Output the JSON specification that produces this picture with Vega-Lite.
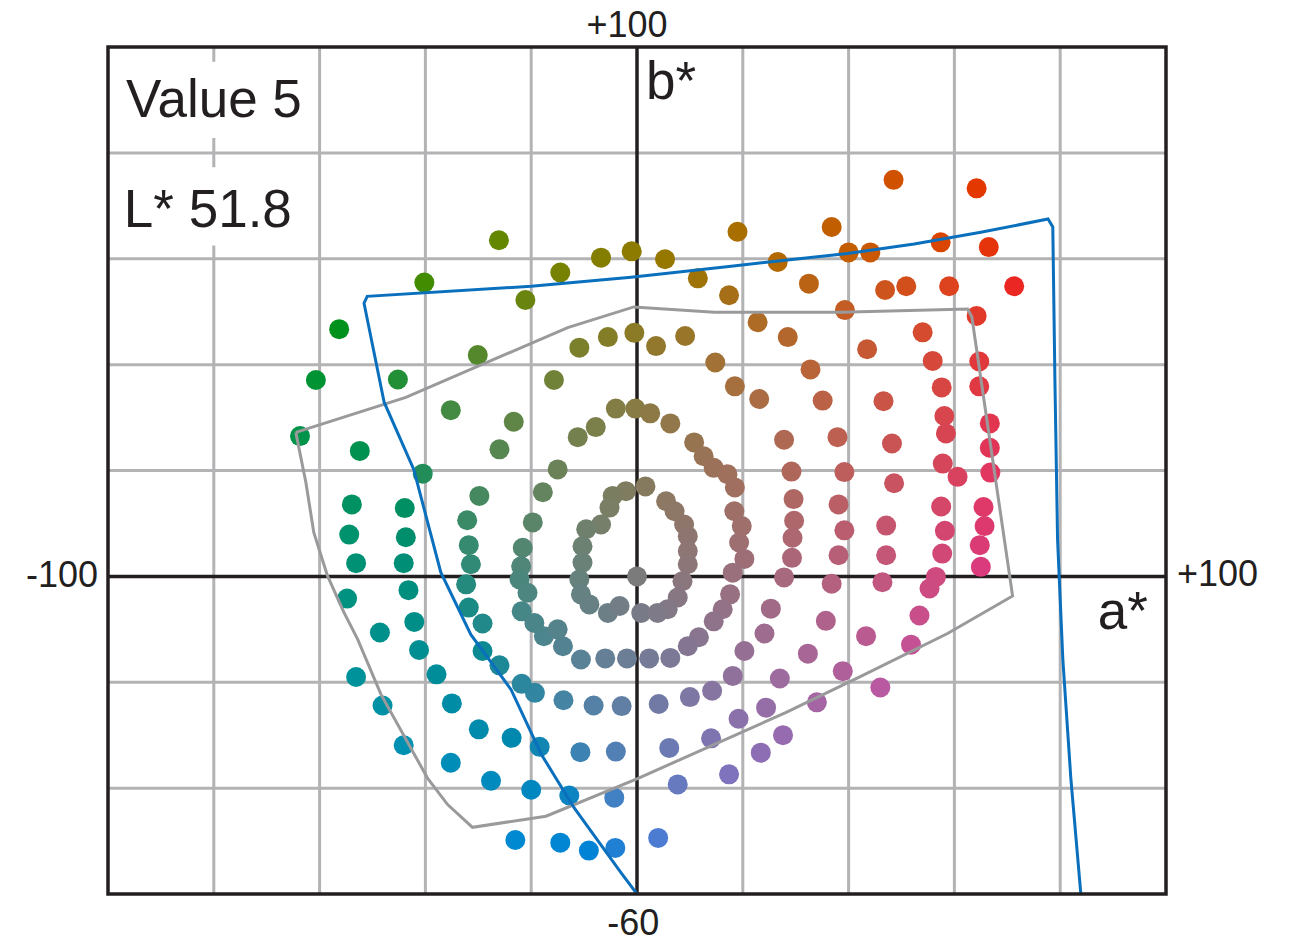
{
  "$schema": "https://vega.github.io/schema/vega-lite/v6.json",
  "width": 1058,
  "height": 847,
  "autosize": {"type": "none"},
  "padding": {"left": 108, "top": 47, "right": 134, "bottom": 48},
  "background": "white",
  "config": {"view": {"stroke": null}},
  "datasets": {
    "gridx": [{"g": -80}, {"g": -60}, {"g": -40}, {"g": -20}, {"g": 20}, {"g": 40}, {"g": 60}, {"g": 80}],
    "gridy": [{"g": -40}, {"g": -20}, {"g": 20}, {"g": 40}, {"g": 60}, {"g": 80}],
    "dots": [
      {"a": -26.1, "b": 63.5}, {"a": -40.2, "b": 55.5}, {"a": -21.1, "b": 52.2}, {"a": -56.3, "b": 46.7},
      {"a": -60.7, "b": 37.1}, {"a": -45.2, "b": 37.2}, {"a": -30.1, "b": 41.8}, {"a": -35.2, "b": 31.4},
      {"a": -14.5, "b": 57.4}, {"a": -6.8, "b": 60.2}, {"a": -1.0, "b": 61.4}, {"a": 5.3, "b": 59.9},
      {"a": 11.5, "b": 56.3}, {"a": 19.0, "b": 65.1}, {"a": 26.6, "b": 59.4}, {"a": 17.4, "b": 53.1},
      {"a": 22.8, "b": 48.0}, {"a": 28.5, "b": 45.2}, {"a": -10.9, "b": 43.2}, {"a": -5.5, "b": 45.2},
      {"a": -0.5, "b": 46.0}, {"a": 3.6, "b": 43.5}, {"a": 9.1, "b": 45.4}, {"a": 14.8, "b": 40.4},
      {"a": 18.5, "b": 35.9}, {"a": -15.7, "b": 37.1}, {"a": 48.5, "b": 74.9}, {"a": 64.2, "b": 73.3},
      {"a": 36.8, "b": 66.0}, {"a": 40.0, "b": 61.2}, {"a": 44.1, "b": 61.2}, {"a": 57.4, "b": 63.1},
      {"a": 66.5, "b": 62.2}, {"a": 32.5, "b": 55.3}, {"a": 46.9, "b": 54.1}, {"a": 50.9, "b": 54.8},
      {"a": 59.0, "b": 54.8}, {"a": 71.3, "b": 54.8}, {"a": 39.3, "b": 50.3}, {"a": 64.2, "b": 49.2},
      {"a": 43.5, "b": 42.9}, {"a": 54.0, "b": 46.1}, {"a": 32.8, "b": 39.1}, {"a": 55.9, "b": 40.7},
      {"a": 64.7, "b": 40.6}, {"a": 35.1, "b": 33.2}, {"a": 46.6, "b": 33.1}, {"a": 57.6, "b": 35.7},
      {"a": 64.7, "b": 35.9}, {"a": 23.1, "b": 33.5}, {"a": -4.0, "b": 31.7}, {"a": -0.3, "b": 31.7},
      {"a": 2.5, "b": 30.8}, {"a": 6.3, "b": 28.9}, {"a": -7.8, "b": 28.2}, {"a": -11.2, "b": 26.3},
      {"a": 10.8, "b": 25.3}, {"a": 12.6, "b": 22.7}, {"a": 14.5, "b": 20.5}, {"a": 17.1, "b": 19.3},
      {"a": 18.5, "b": 16.8}, {"a": -15.0, "b": 20.2}, {"a": -17.8, "b": 15.9}, {"a": 18.4, "b": 12.3},
      {"a": 19.8, "b": 9.5}, {"a": 19.3, "b": 6.4}, {"a": 20.3, "b": 3.3}, {"a": 18.1, "b": 0.7},
      {"a": 17.6, "b": -3.4}, {"a": 16.2, "b": -6.2}, {"a": 14.5, "b": -8.5}, {"a": 11.7, "b": -11.5},
      {"a": -19.7, "b": 10.2}, {"a": 27.8, "b": 25.8}, {"a": 37.9, "b": 26.3}, {"a": 48.2, "b": 25.1},
      {"a": 58.1, "b": 30.3}, {"a": 58.4, "b": 27.0}, {"a": 66.7, "b": 28.9}, {"a": 66.7, "b": 24.3},
      {"a": 66.8, "b": 19.6}, {"a": 57.8, "b": 21.3}, {"a": 60.6, "b": 18.8}, {"a": 29.2, "b": 19.8},
      {"a": 39.2, "b": 19.7}, {"a": 48.6, "b": 17.6}, {"a": 29.6, "b": 14.6}, {"a": 38.1, "b": 13.6},
      {"a": 57.5, "b": 13.2}, {"a": 65.5, "b": 13.1}, {"a": 29.7, "b": 10.5}, {"a": 29.4, "b": 7.3},
      {"a": 39.2, "b": 8.7}, {"a": 47.1, "b": 9.6}, {"a": 58.2, "b": 8.6}, {"a": 65.7, "b": 9.5},
      {"a": 64.8, "b": 5.9}, {"a": 29.3, "b": 3.5}, {"a": 38.1, "b": 4.0}, {"a": 47.1, "b": 4.0},
      {"a": 57.7, "b": 4.3}, {"a": 65.0, "b": 1.8}, {"a": 27.8, "b": -0.2}, {"a": 36.8, "b": -1.4},
      {"a": 46.4, "b": -1.1}, {"a": 56.5, "b": -0.1}, {"a": 55.3, "b": -2.3}, {"a": 53.4, "b": -7.4},
      {"a": 35.7, "b": -8.4}, {"a": 43.3, "b": -11.3}, {"a": 51.8, "b": -12.9}, {"a": 25.3, "b": -6.1},
      {"a": 24.1, "b": -10.8}, {"a": 32.3, "b": -14.6}, {"a": 38.9, "b": -17.9}, {"a": 46.0, "b": -21.0},
      {"a": 27.0, "b": -19.3}, {"a": 34.0, "b": -23.8}, {"a": 27.6, "b": -30.0}, {"a": 20.3, "b": -14.1},
      {"a": 18.1, "b": -18.8}, {"a": 14.2, "b": -21.6}, {"a": 10.0, "b": -22.8}, {"a": 4.1, "b": -24.1},
      {"a": -2.9, "b": -24.5}, {"a": -8.2, "b": -24.4}, {"a": -13.9, "b": -23.4}, {"a": -19.3, "b": -22.0},
      {"a": 24.4, "b": -24.8}, {"a": 19.2, "b": -26.9}, {"a": 14.0, "b": -30.6}, {"a": 6.1, "b": -32.4},
      {"a": -4.0, "b": -33.1}, {"a": -10.7, "b": -33.2}, {"a": -18.4, "b": -32.2}, {"a": 23.4, "b": -33.3},
      {"a": 17.4, "b": -37.4}, {"a": 7.7, "b": -39.3}, {"a": -4.3, "b": -41.8}, {"a": -12.8, "b": -41.4},
      {"a": -20.0, "b": -40.3}, {"a": 4.0, "b": -49.4}, {"a": -4.1, "b": -51.3}, {"a": -9.1, "b": -51.8},
      {"a": -14.5, "b": -50.3}, {"a": -10.6, "b": -15.7}, {"a": -6.0, "b": -15.5}, {"a": -1.9, "b": -15.5},
      {"a": 2.3, "b": -15.5}, {"a": 6.3, "b": -15.4}, {"a": 9.6, "b": -13.2}, {"a": -14.0, "b": -13.2},
      {"a": -17.6, "b": -11.3}, {"a": -48.6, "b": -10.6}, {"a": -41.2, "b": -13.9}, {"a": -53.1, "b": -19.0},
      {"a": -37.9, "b": -18.5}, {"a": -29.2, "b": -14.1}, {"a": -26.0, "b": -16.8}, {"a": -21.8, "b": -20.3},
      {"a": -48.1, "b": -24.4}, {"a": -35.0, "b": -24.0}, {"a": -29.9, "b": -28.9}, {"a": -23.7, "b": -30.5},
      {"a": -44.1, "b": -31.9}, {"a": -35.2, "b": -35.2}, {"a": -27.6, "b": -38.6}, {"a": -23.0, "b": -49.8},
      {"a": -63.7, "b": 26.5}, {"a": -52.4, "b": 23.7}, {"a": -23.3, "b": 29.2}, {"a": -26.0, "b": 24.0},
      {"a": -40.5, "b": 19.4}, {"a": -29.8, "b": 15.2}, {"a": -53.9, "b": 13.6}, {"a": -43.9, "b": 12.9},
      {"a": -32.1, "b": 10.6}, {"a": -54.4, "b": 7.9}, {"a": -43.7, "b": 7.4}, {"a": -31.8, "b": 5.9},
      {"a": -53.1, "b": 2.5}, {"a": -44.1, "b": 2.5}, {"a": -31.4, "b": 2.3}, {"a": -32.3, "b": -1.5},
      {"a": -54.8, "b": -4.2}, {"a": -43.2, "b": -2.6}, {"a": -31.8, "b": -5.9}, {"a": -42.1, "b": -8.6},
      {"a": -29.2, "b": -8.9}, {"a": -21.6, "b": 5.4}, {"a": -21.9, "b": 1.9}, {"a": -22.2, "b": -0.6},
      {"a": -20.7, "b": -3.1}, {"a": -21.8, "b": -6.6}, {"a": -19.4, "b": -8.8}, {"a": -15.0, "b": -10.0},
      {"a": 1.6, "b": 17.0}, {"a": -2.1, "b": 16.1}, {"a": -4.6, "b": 15.2}, {"a": 5.5, "b": 14.2},
      {"a": -5.2, "b": 13.0}, {"a": 7.1, "b": 12.3}, {"a": -6.8, "b": 9.8}, {"a": 8.9, "b": 9.8},
      {"a": -9.6, "b": 8.9}, {"a": 9.6, "b": 7.6}, {"a": -10.3, "b": 5.7}, {"a": 9.6, "b": 4.8},
      {"a": -10.3, "b": 2.6}, {"a": 9.6, "b": 2.3}, {"a": -10.9, "b": -0.6}, {"a": 8.6, "b": -0.9},
      {"a": -10.6, "b": -3.4}, {"a": 7.7, "b": -4.0}, {"a": -9.0, "b": -5.3}, {"a": 5.8, "b": -6.2},
      {"a": -5.5, "b": -6.9}, {"a": -3.3, "b": -5.6}, {"a": 0.8, "b": -6.9}, {"a": 3.9, "b": -6.9},
      {"a": 0.0, "b": 0.0}
    ],
    "blue": [
      {"i": 0, "a": 0.0, "b": -60}, {"i": 1, "a": -3.0, "b": -56.0}, {"i": 2, "a": -11.9, "b": -43.7},
      {"i": 3, "a": -18.1, "b": -33.6}, {"i": 4, "a": -23.8, "b": -21.4}, {"i": 5, "a": -31.4, "b": -11.0},
      {"i": 6, "a": -37.1, "b": 0.8}, {"i": 7, "a": -42.2, "b": 20.2}, {"i": 8, "a": -47.8, "b": 32.9},
      {"i": 9, "a": -51.6, "b": 51.6}, {"i": 10, "a": -51.0, "b": 52.9}, {"i": 11, "a": -20.0, "b": 54.8},
      {"i": 12, "a": -1.1, "b": 56.5}, {"i": 13, "a": 17.8, "b": 58.6}, {"i": 14, "a": 39.8, "b": 61.0},
      {"i": 15, "a": 52.4, "b": 62.8}, {"i": 16, "a": 65.0, "b": 65.0}, {"i": 17, "a": 77.7, "b": 67.5},
      {"i": 18, "a": 78.6, "b": 66.0}, {"i": 19, "a": 79.0, "b": 37.2}, {"i": 20, "a": 79.5, "b": 7.0},
      {"i": 21, "a": 80.5, "b": -15.7}, {"i": 22, "a": 82.0, "b": -38.0}, {"i": 23, "a": 83.9, "b": -60}
    ],
    "gray": [
      {"i": 0, "a": -64.5, "b": 27.2}, {"i": 1, "a": -43.7, "b": 33.8}, {"i": 2, "a": -13.1, "b": 47.0},
      {"i": 3, "a": -0.6, "b": 50.9}, {"i": 4, "a": 14.6, "b": 49.9}, {"i": 5, "a": 38.6, "b": 49.9},
      {"i": 6, "a": 62.5, "b": 50.5}, {"i": 7, "a": 63.3, "b": 49.0}, {"i": 8, "a": 71.0, "b": -3.7},
      {"i": 9, "a": 58.7, "b": -10.8}, {"i": 10, "a": 42.3, "b": -18.9}, {"i": 11, "a": 28.2, "b": -25.7},
      {"i": 12, "a": 0.1, "b": -38.2}, {"i": 13, "a": -17.2, "b": -45.3}, {"i": 14, "a": -31.1, "b": -47.4},
      {"i": 15, "a": -35.8, "b": -43.1}, {"i": 16, "a": -39.6, "b": -38.1}, {"i": 17, "a": -48.4, "b": -22.3},
      {"i": 18, "a": -52.8, "b": -11.9}, {"i": 19, "a": -55.4, "b": -6.8}, {"i": 20, "a": -58.5, "b": 0.1},
      {"i": 21, "a": -61.1, "b": 8.3}, {"i": 22, "a": -62.6, "b": 17.8}, {"i": 23, "a": -64.5, "b": 27.2}
    ],
    "boxes": [
      {"a1": -100, "a2": -61.2, "b1": 82.8, "b2": 97.2},
      {"a1": -100, "a2": -61.2, "b1": 62.5, "b2": 77.3}
    ]
  },
  "layer": [
    {
      "data": {"name": "gridx"},
      "mark": {"type": "rule", "color": "#b3b3b5", "strokeWidth": 3},
      "encoding": {"x": {"field": "g", "type": "quantitative", "scale": {"domain": [-100, 100], "nice": false, "zero": false}, "axis": null}}
    },
    {
      "data": {"name": "gridy"},
      "mark": {"type": "rule", "color": "#b3b3b5", "strokeWidth": 3},
      "encoding": {"y": {"field": "g", "type": "quantitative", "scale": {"domain": [-60, 100], "nice": false, "zero": false}, "axis": null}}
    },
    {
      "data": {"name": "boxes"},
      "mark": {"type": "rect", "fill": "white", "stroke": null},
      "encoding": {
        "x": {"field": "a1", "type": "quantitative", "scale": {"domain": [-100, 100], "nice": false, "zero": false}, "axis": null},
        "x2": {"field": "a2"},
        "y": {"field": "b1", "type": "quantitative", "scale": {"domain": [-60, 100], "nice": false, "zero": false}, "axis": null},
        "y2": {"field": "b2"}
      }
    },
    {
      "data": {"values": [{}]},
      "mark": {"type": "rule", "color": "#231f20", "strokeWidth": 3.5},
      "encoding": {"y": {"datum": 0, "type": "quantitative", "scale": {"domain": [-60, 100], "nice": false, "zero": false}, "axis": null}}
    },
    {
      "data": {"values": [{}]},
      "mark": {"type": "rule", "color": "#231f20", "strokeWidth": 3.5},
      "encoding": {"x": {"datum": 0, "type": "quantitative", "scale": {"domain": [-100, 100], "nice": false, "zero": false}, "axis": null}}
    },
    {
      "data": {"name": "dots"},
      "transform": [{"calculate": "'' + lab(51.8, datum.a, datum.b)", "as": "c"}],
      "mark": {"type": "circle", "size": 400, "opacity": 1},
      "encoding": {
        "x": {"field": "a", "type": "quantitative", "scale": {"domain": [-100, 100], "nice": false, "zero": false}, "axis": null},
        "y": {"field": "b", "type": "quantitative", "scale": {"domain": [-60, 100], "nice": false, "zero": false}, "axis": null},
        "color": {"field": "c", "type": "nominal", "scale": null, "legend": null}
      }
    },
    {
      "data": {"name": "gray"},
      "mark": {"type": "line", "color": "#9a9a9c", "strokeWidth": 3, "strokeJoin": "miter"},
      "encoding": {
        "x": {"field": "a", "type": "quantitative", "scale": {"domain": [-100, 100], "nice": false, "zero": false}, "axis": null},
        "y": {"field": "b", "type": "quantitative", "scale": {"domain": [-60, 100], "nice": false, "zero": false}, "axis": null},
        "order": {"field": "i", "type": "quantitative"}
      }
    },
    {
      "data": {"name": "blue"},
      "mark": {"type": "line", "color": "#0a70bd", "strokeWidth": 3, "clip": true},
      "encoding": {
        "x": {"field": "a", "type": "quantitative", "scale": {"domain": [-100, 100], "nice": false, "zero": false}, "axis": null},
        "y": {"field": "b", "type": "quantitative", "scale": {"domain": [-60, 100], "nice": false, "zero": false}, "axis": null},
        "order": {"field": "i", "type": "quantitative"}
      }
    },
    {
      "data": {"values": [{}]},
      "mark": {"type": "rect", "filled": false, "stroke": "#231f20", "strokeWidth": 3.5},
      "encoding": {
        "x": {"datum": -100, "type": "quantitative", "scale": {"domain": [-100, 100], "nice": false, "zero": false}, "axis": null},
        "x2": {"datum": 100},
        "y": {"datum": -60, "type": "quantitative", "scale": {"domain": [-60, 100], "nice": false, "zero": false}, "axis": null},
        "y2": {"datum": 100}
      }
    },
    {
      "data": {"values": [{"a": -1.9, "b": 100, "t": "+100"}]},
      "mark": {"type": "text", "align": "center", "baseline": "alphabetic", "dy": -10, "font": "Liberation Sans", "fontSize": 36, "color": "#231f20"},
      "encoding": {"x": {"field": "a", "type": "quantitative", "axis": null}, "y": {"field": "b", "type": "quantitative", "axis": null}, "text": {"field": "t"}}
    },
    {
      "data": {"values": [{"a": -0.7, "b": -60, "t": "-60"}]},
      "mark": {"type": "text", "align": "center", "baseline": "alphabetic", "dy": 41, "font": "Liberation Sans", "fontSize": 36, "color": "#231f20"},
      "encoding": {"x": {"field": "a", "type": "quantitative", "axis": null}, "y": {"field": "b", "type": "quantitative", "axis": null}, "text": {"field": "t"}}
    },
    {
      "data": {"values": [{"a": -100, "b": 0, "t": "-100"}]},
      "mark": {"type": "text", "align": "right", "baseline": "alphabetic", "dx": -10, "dy": 11, "font": "Liberation Sans", "fontSize": 36, "color": "#231f20"},
      "encoding": {"x": {"field": "a", "type": "quantitative", "axis": null}, "y": {"field": "b", "type": "quantitative", "axis": null}, "text": {"field": "t"}}
    },
    {
      "data": {"values": [{"a": 100, "b": 0, "t": "+100"}]},
      "mark": {"type": "text", "align": "left", "baseline": "alphabetic", "dx": 11, "dy": 10, "font": "Liberation Sans", "fontSize": 36, "color": "#231f20"},
      "encoding": {"x": {"field": "a", "type": "quantitative", "axis": null}, "y": {"field": "b", "type": "quantitative", "axis": null}, "text": {"field": "t"}}
    },
    {
      "data": {"values": [{"a": 1.7, "b": 90.2, "t": "b*"}, {"a": 87.1, "b": -10.0, "t": "a*"}, {"a": -96.6, "b": 86.8, "t": "Value 5"}, {"a": -97.0, "b": 66.0, "t": "L* 51.8"}]},
      "mark": {"type": "text", "align": "left", "baseline": "alphabetic", "font": "Liberation Sans", "fontSize": 53, "color": "#231f20"},
      "encoding": {"x": {"field": "a", "type": "quantitative", "axis": null}, "y": {"field": "b", "type": "quantitative", "axis": null}, "text": {"field": "t"}}
    }
  ]
}
